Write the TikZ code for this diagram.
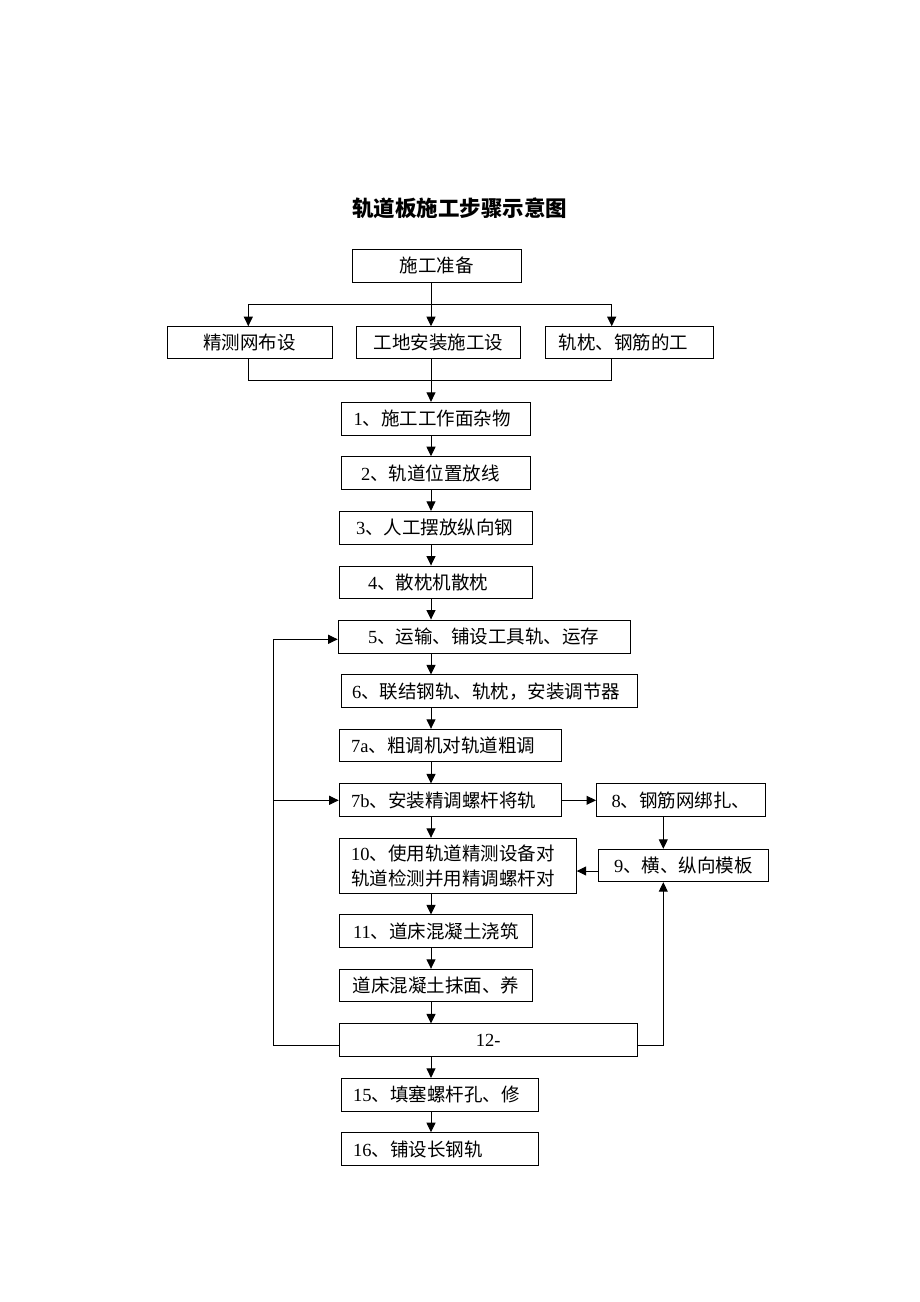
\documentclass[tikz,border=0pt]{standalone}
\usepackage{fontspec}
\setmainfont{Liberation Serif}
\newfontfamily\cjk{Noto Sans CJK SC}
\usetikzlibrary{arrows.meta,calc}
\newcommand\C[1]{{\cjk #1}}
\begin{document}
\begin{tikzpicture}[x=1pt,y=-1pt,
  every node/.style={font=\fontsize{18.5}{25}\selectfont},
  box/.style={draw=black,line width=1pt,inner ysep=0pt,anchor=west},
  arr/.style={line width=1pt,-{Triangle[length=9.5pt,width=9pt]}},
  ln/.style={line width=1pt}]
\fill[white] (0,0) rectangle (920,1302);
\useasboundingbox (0,0) rectangle (920,1302);

\node[font=\fontsize{21.5}{24}\selectfont\cjk\bfseries] (title) at (459.7,208) {轨道板施工步骤示意图};

\node[box,minimum height=33pt,text width=149pt,inner xsep=10pt,align=center] (prep) at (351.7,265.8) {\C{施工准备}};
\node[box,minimum height=31.6pt,text width=145pt,inner xsep=10pt,align=center] (a) at (166.7,342.5) {\C{精测网布设}};
\node[box,minimum height=31.6pt,text width=144.3pt,inner xsep=10pt,align=center] (b) at (355.7,342.5) {\C{工地安装施工设}};
\node[box,minimum height=31.6pt,text width=141.7pt,inner xsep=13pt,align=left] (c) at (545,342.5) {\C{轨枕、钢筋的工}};

\node[box,minimum height=32.7pt,text width=164.3pt,inner xsep=12.5pt,align=left] (b1) at (340.7,418.7) {1\C{、施工工作面杂物}};
\node[box,minimum height=32.6pt,text width=149.3pt,inner xsep=20pt,align=left] (b2) at (340.7,473) {2\C{、轨道位置放线}};
\node[box,minimum height=32.7pt,text width=159.6pt,inner xsep=17pt,align=left] (b3) at (338.7,527.7) {3\C{、人工摆放纵向钢}};
\node[box,minimum height=32.3pt,text width=135.6pt,inner xsep=29pt,align=left] (b4) at (338.7,582.2) {4\C{、散枕机散枕}};
\node[box,minimum height=33.3pt,text width=232pt,inner xsep=30pt,align=left] (b5) at (337.7,636.7) {5\C{、运输、铺设工具轨、运存}};
\node[box,minimum height=32.7pt,text width=274pt,inner xsep=11pt,align=left] (b6) at (340.7,691.3) {6\C{、联结钢轨、轨枕，安装调节器}};
\node[box,minimum height=32.4pt,text width=198pt,inner xsep=12pt,align=left] (b7a) at (338.7,745.5) {7a\C{、粗调机对轨道粗调}};
\node[box,minimum height=32.7pt,text width=198pt,inner xsep=12pt,align=left] (b7b) at (338.7,800.3) {7b\C{、安装精调螺杆将轨}};
\node[box,minimum height=32.7pt,text width=149pt,inner xsep=10pt,align=center] (b8) at (596,800.3) {8\C{、钢筋网绑扎、}};
\node[box,minimum height=32.4pt,text width=149.4pt,inner xsep=10pt,align=center] (b9) at (598.3,865.5) {9\C{、横、纵向模板}};
\node[box,minimum height=55pt,text width=213pt,inner xsep=12pt,align=left] (b10) at (338.7,865.8) {10\C{、使用轨道精测设备对}\\\C{轨道检测并用精调螺杆对}};
\node[box,minimum height=32.7pt,text width=173.6pt,inner xsep=10pt,align=center] (b11) at (338.7,931.3) {11\C{、道床混凝土浇筑}};
\node[box,minimum height=32.4pt,text width=173.6pt,inner xsep=10pt,align=center] (bm) at (338.7,985.5) {\C{道床混凝土抹面、养}};
\node[box,minimum height=32.7pt,text width=278pt,inner xsep=10pt,align=center] (b12) at (338.7,1040.3) {12-};
\node[box,minimum height=32.7pt,text width=173pt,inner xsep=12pt,align=left] (b15) at (340.7,1094.7) {15\C{、填塞螺杆孔、修}};
\node[box,minimum height=33pt,text width=173pt,inner xsep=12pt,align=left] (b16) at (340.7,1149.2) {16\C{、铺设长钢轨}};

\coordinate (col) at (431,0);
\coordinate (hl) at (248.3,304);
\coordinate (hr) at (611.7,304);
\coordinate (bl) at (248.3,380);
\coordinate (br) at (611.7,380);
\coordinate (lx) at (273.3,0);
\coordinate (rx) at (663.3,0);
\coordinate (y5) at (0,639.3);
\coordinate (y9) at (0,871);
\coordinate (y12) at (0,1045.7);

\draw[ln] (prep.south -| col) -- (col |- hl);
\draw[ln] (hl) -- (hr);
\draw[arr] (hl) -- (a.north -| hl);
\draw[arr] (col |- hl) -- (b.north -| col);
\draw[arr] (hr) -- (c.north -| hr);
\draw[ln] (a.south -| bl) -- (bl) -- (br) -- (c.south -| br);
\draw[arr] (b.south -| col) -- (b1.north -| col);

\foreach \u/\v in {b1/b2,b2/b3,b3/b4,b4/b5,b5/b6,b6/b7a,b7a/b7b,b7b/b10,b10/b11,b11/bm,bm/b12,b12/b15,b15/b16}
  \draw[arr] (\u.south -| col) -- (\v.north -| col);

\draw[ln] (b12.west |- y12) -- (lx |- y12) -- (lx |- y5);
\draw[arr] (lx |- y5) -- (b5.west |- y5);
\draw[arr] (lx |- b7b.west) -- (b7b.west);

\draw[ln] (b12.east |- y12) -- (rx |- y12);
\draw[arr] (rx |- y12) -- (b9.south -| rx);
\draw[arr] (b7b.east) -- (b8.west);
\draw[arr] (b8.south -| rx) -- (b9.north -| rx);
\draw[arr] (b9.west |- y9) -- (b10.east |- y9);
\end{tikzpicture}
\end{document}
